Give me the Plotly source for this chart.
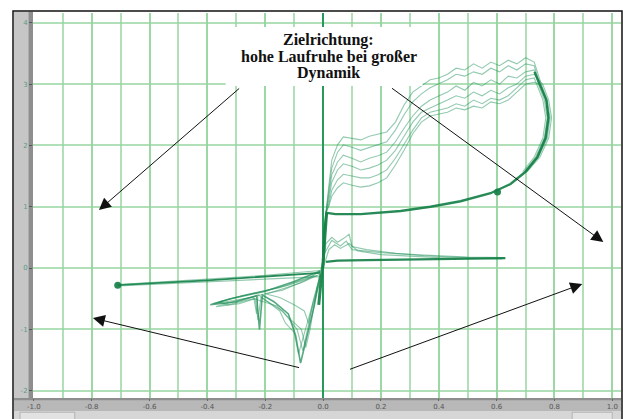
import plotly.graph_objects as go

# ---------------------------------------------------------------
# Data (x: normalised position, y: response)
# ---------------------------------------------------------------
x_tick_vals = [-1.0, -0.8, -0.6, -0.4, -0.2, 0.0, 0.2, 0.4, 0.6, 0.8, 1.0]
x_tick_text = ["-1.0", "-0.8", "-0.6", "-0.4", "-0.2", "0.0", "0.2", "0.4", "0.6", "0.8", "1.0"]
y_tick_vals = [-2, -1, 0, 1, 2, 3, 4]
y_tick_text = ["-2", "-1", "0", "1", "2", "3", "4"]

# lower branch of the big loop (dense, dark)
loop_low_x = [0.0, 0.002, 0.005, 0.012, 0.043, 0.13, 0.268, 0.371, 0.475, 0.579, 0.648, 0.70, 0.741, 0.769, 0.779, 0.772, 0.751, 0.731]
loop_low_y = [0.0, 0.29, 0.62, 0.90, 0.88, 0.88, 0.93, 1.00, 1.09, 1.22, 1.37, 1.57, 1.81, 2.12, 2.45, 2.74, 2.99, 3.20]
loop_mark_x = [0.603]
loop_mark_y = [1.24]

# upper branches of the big loop (six repetitions)
upper_1_x = [0.70, 0.745, 0.775, 0.785, 0.775, 0.755,
             0.73, 0.70, 0.67, 0.64, 0.61, 0.58, 0.55, 0.52, 0.49, 0.46, 0.43, 0.40, 0.37, 0.34,
             0.31, 0.28, 0.25, 0.22, 0.19, 0.16, 0.13, 0.10, 0.07, 0.05, 0.03, 0.02, 0.01]
upper_1_y = [1.57, 1.81, 2.12, 2.45, 2.74, 2.99,
             3.36, 3.43, 3.33, 3.39, 3.30, 3.36, 3.26, 3.33, 3.23, 3.26, 3.16, 3.10, 3.07, 2.97,
             2.87, 2.66, 2.38, 2.22, 2.19, 2.15, 2.09, 2.12, 2.14, 2.01, 1.76, 1.35, 0.91]
upper_2_x = [0.70, 0.74, 0.77, 0.78, 0.77, 0.75,
             0.73, 0.70, 0.67, 0.64, 0.61, 0.58, 0.55, 0.52, 0.49, 0.46, 0.43, 0.40, 0.37, 0.34,
             0.31, 0.28, 0.25, 0.22, 0.19, 0.16, 0.13, 0.10, 0.07, 0.05, 0.03, 0.02, 0.01]
upper_2_y = [1.57, 1.81, 2.12, 2.45, 2.74, 2.99,
             3.30, 3.33, 3.23, 3.30, 3.20, 3.26, 3.16, 3.20, 3.13, 3.16, 3.07, 3.00, 2.94, 2.84,
             2.71, 2.50, 2.25, 2.06, 2.01, 1.96, 1.92, 1.97, 2.01, 1.89, 1.63, 1.27, 0.91]
upper_3_x = [0.695, 0.735, 0.765, 0.775, 0.765, 0.745,
             0.73, 0.70, 0.67, 0.64, 0.61, 0.58, 0.55, 0.52, 0.49, 0.46, 0.43, 0.40, 0.37, 0.34,
             0.31, 0.28, 0.25, 0.22, 0.19, 0.16, 0.13, 0.10, 0.07, 0.05, 0.03, 0.02, 0.01]
upper_3_y = [1.57, 1.81, 2.12, 2.45, 2.74, 2.99,
             3.23, 3.20, 3.10, 3.13, 3.00, 3.07, 2.97, 3.03, 2.90, 2.97, 2.87, 2.81, 2.74, 2.64,
             2.48, 2.28, 2.06, 1.89, 1.83, 1.79, 1.73, 1.79, 1.84, 1.73, 1.52, 1.19, 0.90]
upper_4_x = [0.705, 0.75, 0.78, 0.79, 0.78, 0.76,
             0.73, 0.70, 0.67, 0.64, 0.61, 0.58, 0.55, 0.52, 0.49, 0.46, 0.43, 0.40, 0.37, 0.34,
             0.31, 0.28, 0.25, 0.22, 0.19, 0.16, 0.13, 0.10, 0.07, 0.05, 0.03, 0.02, 0.01]
upper_4_y = [1.57, 1.81, 2.12, 2.45, 2.74, 2.99,
             3.16, 3.13, 3.00, 2.94, 2.84, 2.90, 2.81, 2.87, 2.77, 2.81, 2.74, 2.68, 2.61, 2.54,
             2.38, 2.15, 1.92, 1.76, 1.68, 1.63, 1.60, 1.66, 1.70, 1.60, 1.40, 1.11, 0.90]
upper_5_x = [0.69, 0.73, 0.76, 0.77, 0.76, 0.74,
             0.73, 0.70, 0.67, 0.64, 0.61, 0.58, 0.55, 0.52, 0.49, 0.46, 0.43, 0.40, 0.37, 0.34,
             0.31, 0.28, 0.25, 0.22, 0.19, 0.16, 0.13, 0.10, 0.07, 0.05, 0.03, 0.02, 0.01]
upper_5_y = [1.57, 1.81, 2.12, 2.45, 2.74, 2.99,
             3.10, 3.07, 2.94, 2.81, 2.74, 2.77, 2.68, 2.74, 2.64, 2.68, 2.61, 2.58, 2.54, 2.45,
             2.25, 2.02, 1.79, 1.60, 1.52, 1.47, 1.47, 1.50, 1.53, 1.44, 1.27, 1.04, 0.90]
upper_6_x = [0.70, 0.742, 0.772, 0.782, 0.772, 0.752,
             0.73, 0.70, 0.67, 0.64, 0.61, 0.58, 0.55, 0.52, 0.49, 0.46, 0.43, 0.40, 0.37, 0.34,
             0.31, 0.28, 0.25, 0.22, 0.19, 0.16, 0.13, 0.10, 0.07, 0.05, 0.03, 0.02, 0.01]
upper_6_y = [1.57, 1.81, 2.12, 2.45, 2.74, 2.99,
             3.03, 3.00, 2.87, 2.74, 2.68, 2.71, 2.61, 2.64, 2.58, 2.61, 2.54, 2.51, 2.48, 2.38,
             2.19, 1.92, 1.68, 1.47, 1.39, 1.34, 1.32, 1.35, 1.39, 1.31, 1.17, 1.01, 0.90]

# short excursions to the right
right_1_x = [0.0, 0.01, 0.03, 0.05, 0.07, 0.09, 0.10, 0.15, 0.25, 0.35, 0.45, 0.55, 0.63]
right_1_y = [0.05, 0.40, 0.50, 0.42, 0.48, 0.55, 0.35, 0.30, 0.24, 0.20, 0.18, 0.16, 0.16]
right_2_x = [0.0, 0.02, 0.04, 0.06, 0.09, 0.12, 0.20, 0.30, 0.40, 0.50, 0.62]
right_2_y = [0.0, 0.30, 0.38, 0.32, 0.40, 0.28, 0.22, 0.19, 0.17, 0.16, 0.15]
right_3_x = [0.01, 0.05, 0.15, 0.30, 0.45, 0.63]
right_3_y = [0.10, 0.12, 0.13, 0.14, 0.15, 0.16]
right_4_x = [0.0, 0.03, 0.06, 0.08, 0.10, 0.20, 0.35, 0.50, 0.62]
right_4_y = [0.20, 0.45, 0.36, 0.44, 0.30, 0.25, 0.21, 0.18, 0.17]

# long excursion to the left
left_x = [-0.01, -0.2, -0.4, -0.6, -0.71]
left_1_y = [-0.08, -0.14, -0.20, -0.25, -0.28]
left_2_y = [-0.14, -0.18, -0.23, -0.27, -0.29]
left_3_y = [-0.04, -0.12, -0.18, -0.24, -0.27]
left_mark_x = [-0.71]
left_mark_y = [-0.28]

# lower-left fan
fan_1_x = [-0.01, -0.03, -0.06, -0.078, -0.095, -0.12, -0.17, -0.21, -0.22, -0.23, -0.30, -0.39, -0.32, -0.20, -0.10, -0.01]
fan_1_y = [-0.10, -0.60, -1.20, -1.55, -1.10, -0.75, -0.55, -0.44, -1.00, -0.45, -0.55, -0.60, -0.50, -0.38, -0.22, -0.05]
fan_2_x = [-0.01, -0.04, -0.07, -0.09, -0.14, -0.19, -0.215, -0.225, -0.235, -0.29, -0.37, -0.29, -0.18, -0.08, -0.01]
fan_2_y = [-0.20, -0.70, -1.35, -1.00, -0.70, -0.55, -0.48, -0.85, -0.50, -0.58, -0.63, -0.52, -0.40, -0.25, -0.10]
fan_3_x = [-0.01, -0.05, -0.085, -0.10, -0.13, -0.15, -0.20, -0.225, -0.23, -0.24, -0.31, -0.38, -0.28, -0.15, -0.03]
fan_3_y = [-0.15, -0.80, -1.40, -1.05, -0.90, -0.70, -0.52, -0.43, -0.75, -0.47, -0.53, -0.58, -0.45, -0.32, -0.12]
fan_4_x = [-0.02, -0.045, -0.06, -0.075, -0.11, -0.16, -0.24, -0.33, -0.36, -0.25, -0.12, -0.02]
fan_4_y = [-0.30, -1.00, -1.30, -1.00, -0.85, -0.62, -0.50, -0.60, -0.55, -0.42, -0.28, -0.12]
fan_5_x = [-0.01, -0.035, -0.05, -0.065, -0.10, -0.15, -0.20, -0.14, -0.06, -0.01]
fan_5_y = [-0.10, -0.55, -0.90, -0.70, -0.60, -0.48, -0.42, -0.36, -0.20, -0.05]

# dense bundle around the origin
core_x = [-0.015, -0.01, -0.004, 0.0, 0.004, 0.008, 0.012]
core_y = [-0.60, -0.30, -0.05, 0.10, 0.40, 0.70, 0.90]

# ---------------------------------------------------------------
# Styling
# ---------------------------------------------------------------
DARK = "rgba(22,128,72,0.92)"
MID = "rgba(30,140,85,0.75)"
THIN = "rgba(40,150,95,0.5)"
GRID = "rgba(150,212,160,0.75)"

fig = go.Figure()


def add_line(x, y, color, width):
    fig.add_trace(go.Scatter(x=x, y=y, mode="lines",
                             line=dict(color=color, width=width),
                             hoverinfo="skip", showlegend=False))


for ux, uy in [(upper_1_x, upper_1_y), (upper_2_x, upper_2_y), (upper_3_x, upper_3_y),
               (upper_4_x, upper_4_y), (upper_5_x, upper_5_y), (upper_6_x, upper_6_y)]:
    add_line(ux, uy, THIN, 1.1)

add_line(loop_low_x, loop_low_y, DARK, 2.4)

for rx, ry in [(right_1_x, right_1_y), (right_2_x, right_2_y), (right_4_x, right_4_y)]:
    add_line(rx, ry, THIN, 1.2)
add_line(right_3_x, right_3_y, DARK, 2.2)

add_line(left_x, left_1_y, DARK, 1.8)
add_line(left_x, left_2_y, THIN, 1.2)
add_line(left_x, left_3_y, THIN, 1.2)

for fx, fy in [(fan_2_x, fan_2_y), (fan_3_x, fan_3_y), (fan_4_x, fan_4_y), (fan_5_x, fan_5_y)]:
    add_line(fx, fy, THIN, 1.1)
add_line(fan_1_x, fan_1_y, MID, 1.6)

add_line(core_x, core_y, DARK, 3)

fig.add_trace(go.Scatter(x=loop_mark_x + left_mark_x, y=loop_mark_y + left_mark_y,
                         mode="markers", marker=dict(color=DARK, size=7),
                         hoverinfo="skip", showlegend=False))

# ---------------------------------------------------------------
# Frame and surrounding instrument chrome (paper coordinates)
# ---------------------------------------------------------------
shapes = [
    # left grey strip with darker inner edge
    dict(type="rect", xref="paper", yref="paper", x0=-0.0323, x1=0.0, y0=-0.034, y1=1.003,
         fillcolor="#c6c6c6", line=dict(width=0), layer="below"),
    dict(type="rect", xref="paper", yref="paper", x0=-0.0075, x1=0.0, y0=-0.034, y1=1.003,
         fillcolor="#8e8e8e", line=dict(width=0), layer="below"),
    # bottom grey strips
    dict(type="rect", xref="paper", yref="paper", x0=-0.0323, x1=1.0, y0=-0.034, y1=0.0,
         fillcolor="#b8b8b8", line=dict(width=0), layer="below"),
    dict(type="rect", xref="paper", yref="paper", x0=-0.0323, x1=1.0, y0=-0.006, y1=0.0,
         fillcolor="#8e8e8e", line=dict(width=0), layer="below"),
    dict(type="rect", xref="paper", yref="paper", x0=-0.0323, x1=1.0, y0=-0.06, y1=-0.034,
         fillcolor="#d6d6d6", line=dict(width=0), layer="below"),
    dict(type="rect", xref="paper", yref="paper", x0=-0.022, x1=0.071, y0=-0.06, y1=-0.037,
         fillcolor="#e2e2e2", line=dict(color="#9a9a9a", width=0.6), layer="below"),
    dict(type="rect", xref="paper", yref="paper", x0=0.917, x1=0.985, y0=-0.06, y1=-0.037,
         fillcolor="#e2e2e2", line=dict(color="#9a9a9a", width=0.6), layer="below"),
    # outer black frame
    dict(type="rect", xref="paper", yref="paper", x0=-0.034, x1=1.0017, y0=-0.07, y1=1.005,
         fillcolor="rgba(0,0,0,0)", line=dict(color="#111111", width=1.5), layer="above"),
    # white box behind the heading
    dict(type="rect", xref="x", yref="y", x0=-0.337, x1=0.344, y0=2.97, y1=3.93,
         fillcolor="white", line=dict(width=0), layer="above"),
]

annotations = []
heading_lines = [("Zielrichtung:", 3.72), ("hohe Laufruhe bei großer", 3.45), ("Dynamik", 3.18)]
for txt, yy in heading_lines:
    annotations.append(dict(x=0.02, y=yy, xref="x", yref="y", text=txt, showarrow=False,
                            xanchor="center", yanchor="middle",
                            font=dict(family="Liberation Serif", size=16, color="#111111",
                                      weight="bold")))

# arrows: (head x, head y, tail x, tail y)
arrows = [(-0.775, 0.946, -0.285, 2.95),
          (0.969, 0.424, 0.233, 2.95),
          (-0.796, -0.816, -0.078, -1.63),
          (0.896, -0.26, 0.088, -1.66)]
for hx, hy, tx, ty in arrows:
    annotations.append(dict(x=hx, y=hy, ax=tx, ay=ty, xref="x", yref="y", axref="x", ayref="y",
                            text="", showarrow=True, arrowhead=2, arrowsize=2.4,
                            arrowwidth=1, arrowcolor="#111111"))

fig.update_layout(
    width=623, height=419,
    margin=dict(l=33, r=2, t=13, b=21),
    paper_bgcolor="white",
    plot_bgcolor="white",
    shapes=shapes,
    annotations=annotations,
    xaxis=dict(range=[-1.003, 1.03], tickvals=x_tick_vals, ticktext=x_tick_text,
               showgrid=True, gridcolor=GRID, gridwidth=1.5,
               minor=dict(dtick=0.1, tick0=0, showgrid=True, gridcolor=GRID, gridwidth=1.5),
               zeroline=True, zerolinecolor="rgba(30,150,85,0.95)", zerolinewidth=2,
               ticks="outside", ticklen=2, tickcolor="#666666",
               tickfont=dict(family="DejaVu Sans", size=7, color="#555555"),
               showline=False, fixedrange=True),
    yaxis=dict(range=[-2.12, 4.16], tickvals=y_tick_vals, ticktext=y_tick_text,
               showgrid=True, gridcolor=GRID, gridwidth=1.5,
               zeroline=False,
               ticks="outside", ticklen=3, tickcolor="#555555",
               tickfont=dict(family="DejaVu Sans", size=7, color="#5a9a80"),
               showline=False, fixedrange=True),
)

fig.write_html("out.html")
